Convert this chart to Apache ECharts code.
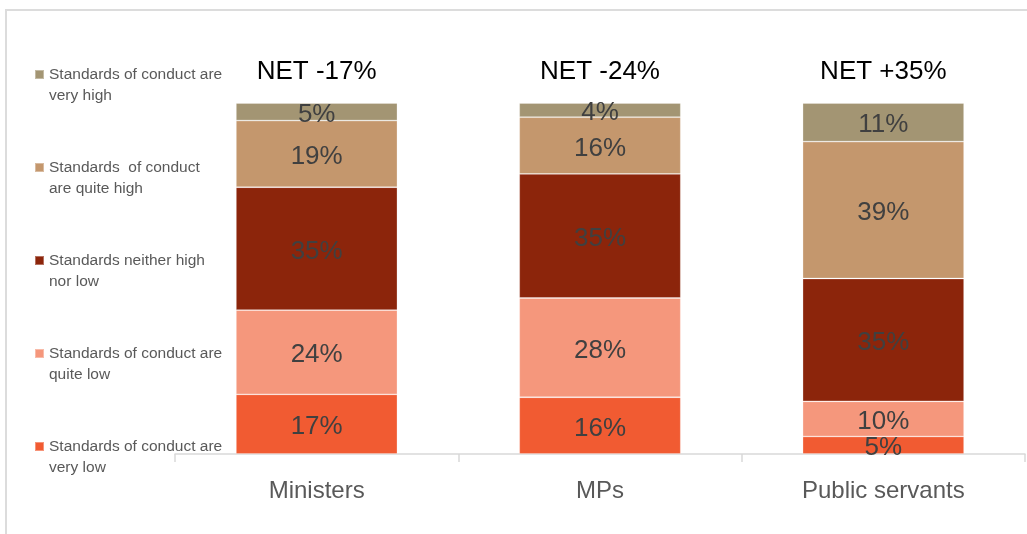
<!DOCTYPE html>
<html>
<head>
<meta charset="utf-8">
<script src="https://cdn.jsdelivr.net/npm/echarts@6/dist/echarts.min.js"></script>
<style>html,body{margin:0;padding:0;background:#fff;}#c{width:1027px;height:534px;}</style>
</head>
<body>
<div id="c"></div>
<script>
// ---- data ----
var categories = ['Ministers', 'MPs', 'Public servants'];
var netLabels = ['NET -17%', 'NET -24%', 'NET +35%'];
var seriesNames = [
  'Standards of conduct are very low',
  'Standards of conduct are quite low',
  'Standards neither high nor low',
  'Standards  of conduct are quite high',
  'Standards of conduct are very high'
];
var legendTexts = [
  'Standards of conduct are\nvery low',
  'Standards of conduct are\nquite low',
  'Standards neither high\nnor low',
  'Standards  of conduct\nare quite high',
  'Standards of conduct are\nvery high'
];
var veryLow   = [17, 16, 5];
var quiteLow  = [24, 28, 10];
var neither   = [35, 35, 35];
var quiteHigh = [19, 16, 39];
var veryHigh  = [5, 4, 11];

var seriesValues = [veryLow, quiteLow, neither, quiteHigh, veryHigh];
var colors = ['#F15B32', '#F5977C', '#8C250B', '#C4976D', '#A39573'];

// 100% stacked: share of each category total
var totals = categories.map(function (c, i) {
  return seriesValues.reduce(function (s, arr) { return s + arr[i]; }, 0);
});

var FONT = '"Liberation Sans Narrow", "Arial Narrow", "Liberation Sans", Arial, sans-serif';
var REG = '"Liberation Sans", Arial, sans-serif';

var series = seriesValues.map(function (arr, k) {
  return {
    name: seriesNames[k],
    type: 'bar',
    stack: 'total',
    barWidth: '57%',
    itemStyle: { color: colors[k], borderColor: 'rgba(255,255,255,0.35)', borderWidth: 0.8 },
    label: {
      show: true,
      position: 'inside',
      offset: [0, 3],
      fontFamily: FONT,
      fontSize: 26,
      color: '#404040',
      formatter: function (p) { return p.data.raw + '%'; }
    },
    emphasis: { disabled: true },
    data: arr.map(function (v, i) { return { value: v / totals[i] * 100, raw: v }; })
  };
});

var legendMap = {};
seriesNames.forEach(function (n, i) { legendMap[n] = legendTexts[i]; });

var chart = echarts.init(document.getElementById('c'), null, { renderer: 'canvas' });
chart.setOption({
  animation: false,
  color: colors,
  graphic: [{
    type: 'rect',
    shape: { x: 6, y: 10, width: 1060, height: 560 },
    style: { fill: 'none', stroke: '#dcdcdc', lineWidth: 2 },
    silent: true,
    z: -10
  }],
  legend: {
    orient: 'vertical',
    left: 34,
    top: 43,
    padding: 0,
    itemWidth: 9,
    itemHeight: 9,
    itemGap: 30,
    icon: 'rect',
    selectedMode: false,
    data: seriesNames.slice().reverse(),
    // leading blank line keeps the first text line level with the marker
    formatter: function (n) { return ' \n' + legendMap[n]; },
    textStyle: {
      fontFamily: FONT,
      fontSize: 15.5,
      lineHeight: 21,
      color: '#595959'
    }
  },
  grid: { left: 175, right: 2, top: 103, bottom: 80 },
  xAxis: [{
    type: 'category',
    position: 'bottom',
    data: categories,
    axisLine: { lineStyle: { color: '#d9d9d9', width: 1.5 } },
    axisTick: { show: true, length: 8, lineStyle: { color: '#d9d9d9', width: 1.5 } },
    axisLabel: {
      fontFamily: FONT,
      fontSize: 24,
      color: '#595959',
      margin: 37,
      verticalAlign: 'middle'
    }
  }, {
    type: 'category',
    position: 'top',
    data: netLabels,
    axisLine: { show: false },
    axisTick: { show: false },
    axisLabel: {
      fontFamily: REG,
      fontSize: 26,
      color: '#000',
      margin: 31,
      verticalAlign: 'middle'
    }
  }],
  yAxis: { type: 'value', min: 0, max: 100, show: false },
  series: series
});
</script>
</body>
</html>
